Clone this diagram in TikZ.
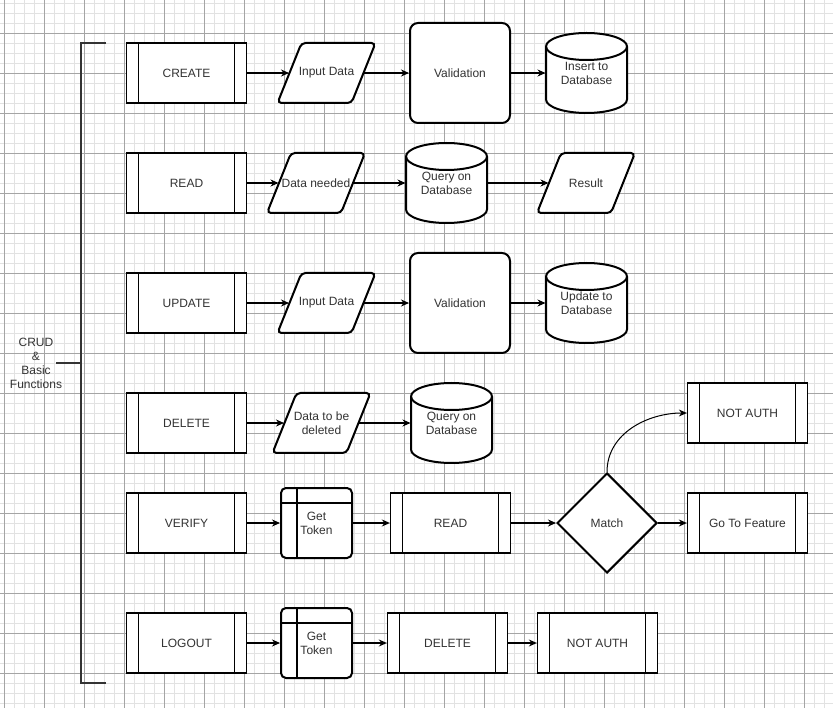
\documentclass[tikz,border=0pt]{standalone}
\usepackage{fontspec}
\setmainfont{Liberation Sans}
\usetikzlibrary{shapes.geometric,arrows.meta}
\definecolor{txt}{RGB}{51,51,51}
\definecolor{minorgrid}{RGB}{226,226,226}
\definecolor{majorgrid}{RGB}{165,165,165}
% parallelogram: name, x, y, text
\newcommand{\ioshape}[4]{%
  \draw[ioline] ({#2-49},{#3+30}) -- ({#2+25},{#3+30}) -- ({#2+49},{#3-30}) -- ({#2-25},{#3-30}) -- cycle;
  \node[iotext] (#1) at (#2,#3) {#4};}
% cylinder: name, x, y, text
\newcommand{\dbshape}[4]{%
  \draw[dbline] ({#2-40.5},{#3+26.5}) arc[start angle=180, end angle=360, x radius=40.5pt, y radius=13.5pt]
    -- ({#2+40.5},{#3-26.5}) arc[start angle=0, end angle=180, x radius=40.5pt, y radius=13.5pt] -- cycle;
  \draw[dbline, fill=none] ({#2-40.5},{#3-26.5}) arc[start angle=180, end angle=360, x radius=40.5pt, y radius=13.5pt];
  \node[dbtext] (#1) at (#2,#3) {#4};}

\begin{document}
\begin{tikzpicture}[x=1pt,y=-1pt,
  every node/.style={font=\fontsize{12}{14}\selectfont, text=txt, align=center, inner sep=0pt},
  sub/.style={draw, fill=white, line width=1.3pt, minimum width=120pt, minimum height=60pt,
    path picture={
      \draw[line width=1.3pt] ([xshift=12pt]path picture bounding box.north west) -- ([xshift=12pt]path picture bounding box.south west);
      \draw[line width=1.3pt] ([xshift=-12pt]path picture bounding box.north east) -- ([xshift=-12pt]path picture bounding box.south east);}},
  ioline/.style={draw, fill=white, line width=2pt, rounded corners=4pt},
  iotext/.style={minimum width=75pt, minimum height=60pt, outer sep=0pt},
  dbline/.style={draw, fill=white, line width=2pt},
  dbtext/.style={minimum width=82pt, minimum height=80pt, outer sep=0pt},
  proc/.style={draw, fill=white, line width=2pt, rounded corners=8pt, minimum width=100pt, minimum height=100pt},
  store/.style={draw, fill=white, line width=2pt, rounded corners=5pt, minimum width=71pt, minimum height=70pt,
    path picture={
      \draw[line width=1.6pt] ([xshift=16pt]path picture bounding box.north west) -- ([xshift=16pt]path picture bounding box.south west);
      \draw[line width=1.6pt] ([yshift=-15pt]path picture bounding box.north west) -- ([yshift=-15pt]path picture bounding box.north east);}},
  dec/.style={diamond, draw, fill=white, line width=2pt, minimum width=100pt, minimum height=100pt},
  arr/.style={-{Stealth[length=8pt,width=7pt]}, line width=1.2pt, black}
]
\useasboundingbox (0,0) rectangle (833,708);
\fill[white] (0,0) rectangle (833,708);
\foreach \i in {0,...,82} \draw[minorgrid, line width=1pt] ({4.7+10*\i},0) -- ({4.7+10*\i},708);
\foreach \i in {0,...,70} \draw[minorgrid, line width=1pt] (0,{3.3+10*\i}) -- (833,{3.3+10*\i});
\foreach \i in {0,...,20} \draw[majorgrid, line width=0.9pt] ({4.7+40*\i},0) -- ({4.7+40*\i},708);
\foreach \i in {0,...,16} \draw[majorgrid, line width=0.9pt] (0,{33.3+40*\i}) -- (833,{33.3+40*\i});

\draw[txt, line width=2pt] (106,43) -- (81,43) -- (81,683) -- (106,683);
\draw[txt, line width=2pt] (56,363) -- (81,363);
\node (crud) at (36,363) {CRUD\\\&\\Basic\\Functions};

\node[sub] (create) at (186.5,73) {CREATE};
\ioshape{in1}{326.5}{73}{Input Data}
\node[proc] (val1) at (460,73) {Validation};
\dbshape{ins}{586.5}{73}{Insert to\\Database}
\draw[arr] (create) -- (in1);
\draw[arr] (in1) -- (val1);
\draw[arr] (val1) -- (ins);

\node[sub] (read) at (186.5,183) {READ};
\ioshape{need}{316}{183}{Data needed}
\dbshape{q1}{446.5}{183}{Query on\\Database}
\ioshape{res}{586}{183}{Result}
\draw[arr] (read) -- (need);
\draw[arr] (need) -- (q1);
\draw[arr] (q1) -- (res);

\node[sub] (update) at (186.5,303) {UPDATE};
\ioshape{in2}{326.5}{303}{Input Data}
\node[proc] (val2) at (460,303) {Validation};
\dbshape{upd}{586.5}{303}{Update to\\Database}
\draw[arr] (update) -- (in2);
\draw[arr] (in2) -- (val2);
\draw[arr] (val2) -- (upd);

\node[sub] (delete) at (186.5,423) {DELETE};
\ioshape{del}{321.5}{423}{Data to be\\deleted}
\dbshape{q2}{451.5}{423}{Query on\\Database}
\draw[arr] (delete) -- (del);
\draw[arr] (del) -- (q2);

\node[sub] (verify) at (186.5,523) {VERIFY};
\node[store] (tok1) at (316.5,523) {Get\\Token};
\node[sub] (read2) at (450.5,523) {READ};
\node[dec] (match) at (607,523) {Match};
\node[sub] (feat) at (747.5,523) {Go To Feature};
\node[sub] (na1) at (747.5,413) {NOT AUTH};
\draw[arr] (verify) -- (tok1);
\draw[arr] (tok1) -- (read2);
\draw[arr] (read2) -- (match);
\draw[arr] (match) -- (feat);
\draw[arr, line width=1pt] (match.north) to[out=90,in=180] (na1.west);

\node[sub] (logout) at (186.5,643) {LOGOUT};
\node[store] (tok2) at (316.5,643) {Get\\Token};
\node[sub] (delete2) at (447.5,643) {DELETE};
\node[sub] (na2) at (597.5,643) {NOT AUTH};
\draw[arr] (logout) -- (tok2);
\draw[arr] (tok2) -- (delete2);
\draw[arr] (delete2) -- (na2);
\end{tikzpicture}
\end{document}
